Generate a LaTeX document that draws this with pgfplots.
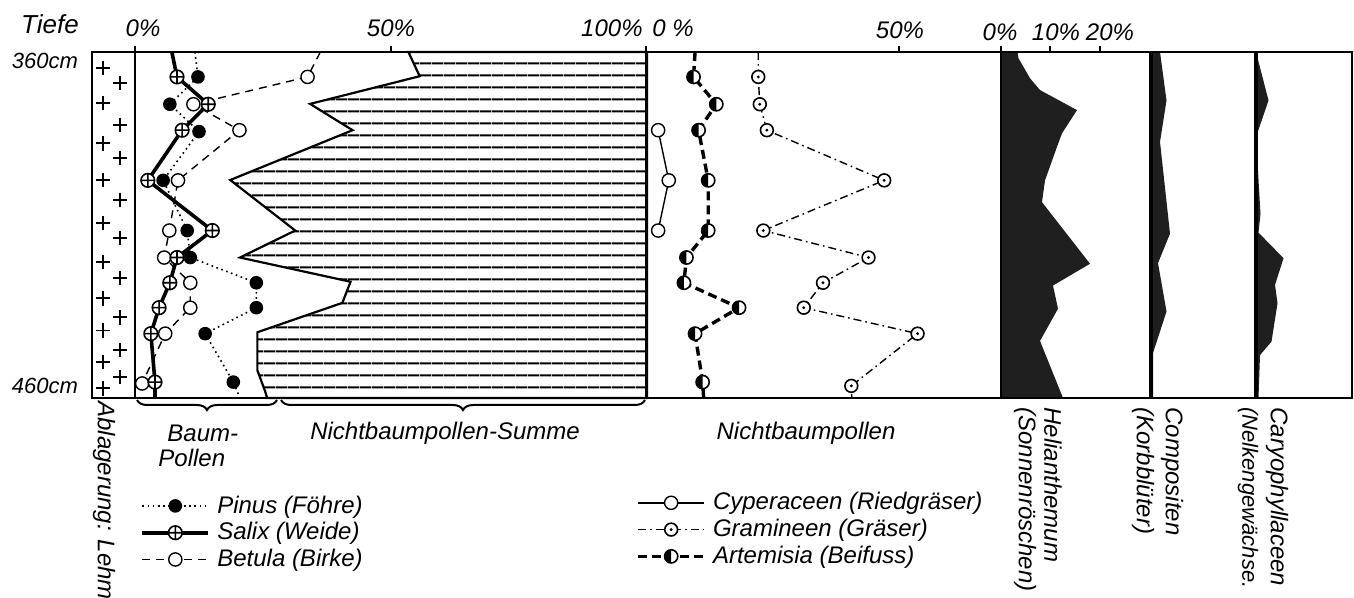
\documentclass[border=0pt]{standalone}
\usepackage{fontspec}
\setmainfont{Liberation Sans}
\usepackage{pgfplots}
\pgfplotsset{compat=1.18}
\usetikzlibrary{patterns.meta,decorations.pathreplacing}

% circle with a dot (Gramineen)
\pgfdeclareplotmark{odot}{%
  \pgfpathcircle{\pgfpointorigin}{\pgfplotmarksize}%
  \pgfusepathqfillstroke
  \pgfscope\pgfsetfillcolor{black}%
  \pgfpathcircle{\pgfpointorigin}{0.25\pgfplotmarksize}%
  \pgfusepathqfill\endpgfscope}
% circle, left half black (Artemisia)
\pgfdeclareplotmark{halfleft}{%
  \pgfpathcircle{\pgfpointorigin}{\pgfplotmarksize}%
  \pgfusepathqfill
  \pgfscope\pgfsetfillcolor{black}%
  \pgfpathmoveto{\pgfqpoint{0pt}{\pgfplotmarksize}}%
  \pgfpatharc{90}{270}{\pgfplotmarksize}%
  \pgfpathclose\pgfusepathqfill\endpgfscope
  \pgfpathcircle{\pgfpointorigin}{\pgfplotmarksize}%
  \pgfusepathqstroke}

\pgfplotsset{
  pd/.style={scale only axis, hide axis, clip=false, y dir=reverse,
    ymin=360, ymax=460, height=173pt, anchor=south west},
  pinus/.style={black, line width=0.8pt, dash pattern=on 0.8pt off 1.8pt,
    mark=*, mark size=3pt, mark options={solid, fill=black}},
  salix/.style={black, line width=1.8pt,
    mark=oplus*, mark size=3.4pt, mark options={solid, fill=white, line width=0.8pt}},
  betula/.style={black, line width=0.7pt, dash pattern=on 4pt off 3pt,
    mark=*, mark size=3.3pt, mark options={solid, fill=white}},
  cyper/.style={black, line width=0.7pt,
    mark=*, mark size=3.3pt, mark options={solid, fill=white}},
  gramin/.style={black, line width=0.7pt, dash pattern=on 4pt off 2pt on 0.8pt off 2pt,
    mark=odot, mark size=3.2pt, mark options={solid, fill=white, line width=0.8pt}},
  artem/.style={black, line width=1.7pt, dash pattern=on 4.5pt off 2.5pt,
    mark=halfleft, mark size=3.3pt, mark options={solid, fill=white, line width=0.8pt}},
  leg/.style={legend style={draw=none, fill=none, inner sep=0pt, row sep=0pt,
      font=\itshape\fontsize{12}{14}\selectfont, nodes={inner sep=1.6pt},
      /tikz/every odd column/.append style={column sep=2pt}},
    legend cell align=left,
    legend image code/.code={\draw[mark repeat=2,mark phase=2,##1]
      plot coordinates {(0pt,0pt) (16.5pt,0pt) (33pt,0pt)};}},
}

\begin{document}
\begin{tikzpicture}[font=\itshape\fontsize{12}{14}\selectfont]
\useasboundingbox (0pt,0pt) rectangle (677pt,-299pt);

% lithology column (loam)
\begin{axis}[pd, at={(46pt,-199pt)}, width=21.5pt, xmin=0, xmax=1]
\addplot[only marks, mark=+, mark size=3.6pt, line width=0.9pt] coordinates {
  (0.26,364.6) (0.65,369.0) (0.26,374.7) (0.65,381.1) (0.26,386.4)
  (0.65,390.6) (0.26,397.0) (0.65,402.8) (0.26,409.4) (0.65,413.8)
  (0.26,420.7) (0.65,425.4) (0.26,431.2) (0.65,436.7) (0.26,440.5)
  (0.65,446.2) (0.26,449.6) (0.65,454.0) (0.26,457.2)};
\end{axis}

% tree pollen and sum of non-tree pollen
\begin{axis}[pd, leg, at={(67.5pt,-199pt)}, width=256pt, xmin=0, xmax=100,
  legend style={at={(axis description cs:0.01,-0.272)}, anchor=north west}]
\addplot[forget plot, draw=black, line width=1.1pt,
  pattern={Lines[angle=0, distance=5.85pt, line width=1pt]}] coordinates {
  (53.4,360) (55.6,367) (34.2,375) (42.5,382.6) (18.6,397) (31.3,411.6)
  (20.5,419.4) (42.1,426.4) (40.5,432.5) (23.9,441) (23.9,452) (25.4,458)
  (25.8,460) (100,460) (100,360)} -- cycle;
\addplot[forget plot, pinus, mark indices={2,3,4,5,6,7,8,9,10,11}] coordinates {
  (11.7,360) (12.3,367.2) (6.8,375.1) (12.5,383) (5.5,397.1) (10.2,411.6)
  (10.8,419.4) (23.7,426.7) (23.7,433.9) (13.7,441.4) (19.2,455.4) (20.5,460)};
\addplot[forget plot, betula, mark indices={2,3,4,5,6,7,8,9,10,11}] coordinates {
  (36.2,360) (33.7,367.2) (11.4,375.1) (20.4,382.6) (8.4,397.1) (6.7,411.6)
  (5.7,419.4) (10.8,426.7) (10.8,433.9) (5.9,441.4) (1.4,455.8)};
\addplot[forget plot, salix, mark indices={2,3,4,5,6,7,8,9,10,11}] coordinates {
  (7.2,360) (8.2,367.2) (14.3,375.1) (9.2,382.6) (2.5,397.1) (15.1,411.6)
  (8.2,419.4) (6.8,426.7) (4.7,433.9) (3.1,441.4) (3.9,455.4) (3.9,460)};
\addlegendimage{pinus}
\addlegendentry{Pinus (Föhre)}
\addlegendimage{salix}
\addlegendentry{Salix (Weide)}
\addlegendimage{betula}
\addlegendentry{Betula (Birke)}
\end{axis}

% non-tree pollen
\begin{axis}[pd, leg, at={(323pt,-199pt)}, width=177.5pt, xmin=0, xmax=70.2,
  legend style={at={(axis description cs:-0.028,-0.263)}, anchor=north west}]
\addplot[forget plot, cyper] coordinates {(2.4,382.6) (4.5,397.1) (2.4,411.6)};
\addplot[forget plot, gramin, mark indices={2,3,4,5,6,7,8,9,10,11}] coordinates {
  (22.2,360) (22.2,367.2) (22.5,375.1) (23.9,382.6) (47.1,397.1) (23.2,411.6)
  (44.0,419.4) (35.0,426.7) (31.2,433.9) (53.7,441.4) (40.6,456.5) (40.7,460)};
\addplot[forget plot, artem, mark indices={2,3,4,5,6,7,8,9,10,11}] coordinates {
  (9.7,360) (9.4,367.2) (13.9,375.1) (10.4,382.6) (12.3,397.1) (12.3,411.6)
  (8.0,419.4) (7.5,426.7) (18.4,433.9) (9.7,441.4) (11.2,455.4) (11.4,460)};
\addlegendimage{cyper}
\addlegendentry{Cyperaceen (Riedgräser)}
\addlegendimage{gramin}
\addlegendentry{Gramineen (Gräser)}
\addlegendimage{artem}
\addlegendentry{Artemisia (Beifuss)}
\end{axis}

% Helianthemum
\begin{axis}[pd, at={(500.5pt,-199pt)}, width=75pt, xmin=0, xmax=30]
\addplot[forget plot, fill=black!88, draw=none] coordinates {
  (0,360) (3.3,360) (3.5,361.8) (5.8,367.6) (7.8,371) (15.2,376.8) (12.2,383.5)
  (11.2,387.4) (8.8,397.1) (8.2,403.4) (17.8,421.2) (10.4,427.5) (11.4,434.2)
  (7.8,443.5) (12.4,460) (0,460)} -- cycle;
\end{axis}

% Compositen
\begin{axis}[pd, at={(575.5pt,-199pt)}, width=52.5pt, xmin=0, xmax=21]
\addplot[forget plot, fill=black!88, draw=none] coordinates {
  (0,360) (1.8,360) (3.1,374) (1.8,386) (3.8,412.5) (1.4,421) (3.1,435)
  (0.4,447) (0.4,460) (0,460)} -- cycle;
\end{axis}

% Caryophyllaceen
\begin{axis}[pd, at={(628pt,-199pt)}, width=48pt, xmin=0, xmax=19.2]
\addplot[forget plot, fill=black!88, draw=none] coordinates {
  (0,360) (2.5,374) (0,384.6) (0.9,406.8) (0.5,412.2) (5.5,419.6) (3.8,427.3)
  (4.3,432.6) (3.1,443.7) (0.8,447.6) (0.5,460) (0,460)} -- cycle;
\end{axis}

% frame, scales and labels (pixel units of the reference)
\begin{scope}[x=0.5pt, y=-0.5pt]
\draw[line width=1.2pt] (92,52) rectangle (1352,398);
\draw[line width=1pt] (135,46) -- (135,398);
\draw[line width=1.2pt] (646,46) -- (646,398);
\draw[line width=1pt] (1001,46) -- (1001,398);
\draw[line width=2.4pt] (1151,52) -- (1151,398);
\draw[line width=2.4pt] (1256,52) -- (1256,398);
\foreach \x in {391,899,1050,1100} \draw[line width=0.8pt] (\x,46) -- (\x,52);

\node[font=\itshape\fontsize{13}{15}\selectfont] at (50,24) {Tiefe};
\node[font=\itshape\fontsize{11}{13}\selectfont] at (45,61) {360cm};
\node[font=\itshape\fontsize{11}{13}\selectfont] at (45,386) {460cm};
\node at (143,28) {0\%};
\node at (391,28) {50\%};
\node[anchor=east, inner sep=0pt] at (643,28) {100\%};
\node[anchor=west, inner sep=0pt] at (652,28) {0 \%};
\node at (900,30) {50\%};
\node at (1000,32) {0\%};
\node at (1056,32) {10\%};
\node at (1110,32) {20\%};

\draw[line width=1pt, decorate, decoration={brace, mirror, amplitude=5pt}]
  (137,400) -- (277,400);
\draw[line width=1pt, decorate, decoration={brace, mirror, amplitude=5pt}]
  (281,400) -- (645,400);

\node[anchor=west, inner sep=0pt] at (167,433) {Baum-};
\node[anchor=west, inner sep=0pt] at (158,458) {Pollen};
\node at (445,433) {Nichtbaumpollen-Summe};
\node at (806,433) {Nichtbaumpollen};

\node[rotate=-90, anchor=west, inner sep=0pt] at (104,401) {Ablagerung: Lehm};
\node[rotate=-90, anchor=west, inner sep=0pt] at (1053,407) {Helianthemum};
\node[rotate=-90, anchor=west, inner sep=0pt] at (1025,407) {(Sonnenröschen)};
\node[rotate=-90, anchor=west, inner sep=0pt] at (1172,407) {Compositen};
\node[rotate=-90, anchor=west, inner sep=0pt] at (1143,407) {(Korbblüter)};
\node[rotate=-90, anchor=west, inner sep=0pt] at (1277,407) {Caryophyllaceen};
\node[rotate=-90, anchor=west, inner sep=0pt,
  font=\itshape\fontsize{11}{13}\selectfont] at (1248,407) {(Nelkengewächse.};
\end{scope}
\end{tikzpicture}
\end{document}
